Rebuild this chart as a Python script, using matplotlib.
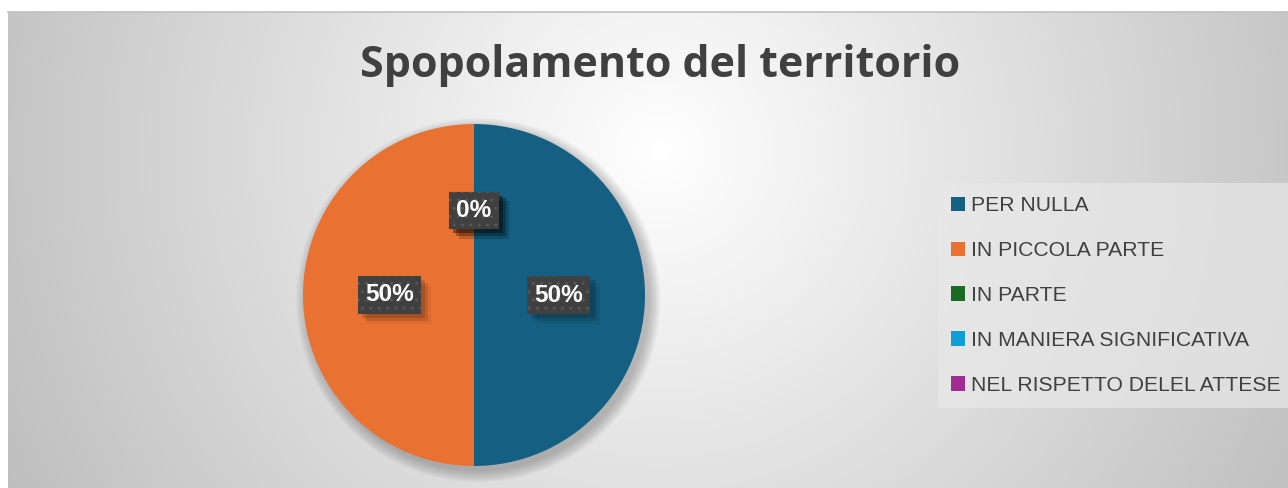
import numpy as np
import matplotlib
matplotlib.use("Agg")
import matplotlib.pyplot as plt
from matplotlib.patches import Patch
from matplotlib import patheffects

# ---- data ----
categories = ["PER NULLA", "IN PICCOLA PARTE", "IN PARTE",
              "IN MANIERA SIGNIFICATIVA", "NEL RISPETTO DELEL ATTESE"]
values = [50, 50, 0, 0, 0]
colors = ["#156082", "#E97132", "#196B24", "#0F9ED5", "#A02B93"]
title = "Spopolamento del territorio"

W, H = 1288, 488
fig = plt.figure(figsize=(W / 100, H / 100), dpi=100)
fig.patch.set_facecolor("white")

# ---- background chart area with radial gradient ----
x0, y0top = 8, 12
bg = fig.add_axes([x0 / W, 0, 1 - x0 / W, (H - y0top) / H])
bw, bh = W - x0, H - y0top
yy, xx = np.mgrid[0:bh, 0:bw]
cx, cy = 660 - x0, 150 - y0top
dist = np.sqrt((xx - cx) ** 2 + (yy - cy) ** 2)
val = np.clip(255 - 0.088 * dist, 190, 255) / 255.0
img = np.dstack([val, val, val])
bg.imshow(img, aspect="auto", extent=(0, bw, bh, 0), interpolation="bilinear")
bg.set_xlim(0, bw)
bg.set_ylim(bh, 0)
bg.axis("off")
fig.add_artist(plt.Line2D([x0 / W, 1], [(H - y0top) / H] * 2, color="#c0c0c0", lw=1.2))

# ---- pie ----
pcx, pcy, r = 474, 295, 171
ax = fig.add_axes([(pcx - r) / W, (H - pcy - r) / H, 2 * r / W, 2 * r / H])
ax.set_zorder(2)

# soft shadow
for i in range(12):
    ax.pie(values, radius=1.0 + 0.006 * i, center=(0.025, -0.03), startangle=90,
           counterclock=False, colors=["black"] * len(values),
           wedgeprops=dict(linewidth=0, alpha=0.018))

label_font = ["Liberation Sans", "DejaVu Sans"]
wedges, texts, autotexts = ax.pie(
    values, colors=colors, startangle=90, counterclock=False,
    autopct=lambda p: f"{p:.0f}%", pctdistance=0.495,
    wedgeprops=dict(linewidth=0),
    textprops=dict(color="white", fontsize=17.6, fontweight="bold", family=label_font))


class NoHatchShadow(patheffects.SimplePatchShadow):
    def draw_path(self, renderer, gc, tpath, affine, rgbFace):
        gc2 = renderer.new_gc()
        gc2.copy_properties(gc)
        gc2.set_hatch(None)
        super().draw_path(renderer, gc2, tpath, affine, rgbFace)
        gc2.restore()


plt.rcParams["hatch.linewidth"] = 1.0
for t in autotexts:
    t.set_bbox(dict(boxstyle="square,pad=0.3", facecolor="#404040",
                    edgecolor="#575757", linewidth=0.01, hatch=".."))
    t.set_zorder(5)
    t.get_bbox_patch().set_path_effects([
        NoHatchShadow(offset=(7, -7), shadow_rgbFace="black", alpha=0.06),
        NoHatchShadow(offset=(5, -5), shadow_rgbFace="black", alpha=0.1),
        NoHatchShadow(offset=(3, -3), shadow_rgbFace="black", alpha=0.15),
        patheffects.Normal()])

ax.set_xlim(-1, 1)
ax.set_ylim(-1, 1)
ax.axis("off")

# ---- title ----
fig.text(660 / W, 1 - 77 / H, title, ha="center", va="baseline", fontsize=31,
         fontweight="bold", color="#404040", family=["Open Sans", "DejaVu Sans"])

# ---- legend ----
handles = [Patch(facecolor=c, edgecolor="none") for c in colors]
leg = fig.legend(handles, categories, loc="upper left",
                 bbox_to_anchor=(938 / W, 1 - 183 / H),
                 frameon=True, fancybox=False,
                 prop=dict(family=["Liberation Sans", "DejaVu Sans"], size=15.2),
                 handlelength=0.66, handleheight=0.66, handletextpad=0.3,
                 labelspacing=1.23, borderpad=0.62, borderaxespad=0)
leg.get_frame().set_facecolor("#e8e8e8")
leg.get_frame().set_edgecolor("none")
leg.get_frame().set_alpha(0.7)
for txt in leg.get_texts():
    txt.set_color("#404040")

fig.savefig("out.png", dpi=100)
